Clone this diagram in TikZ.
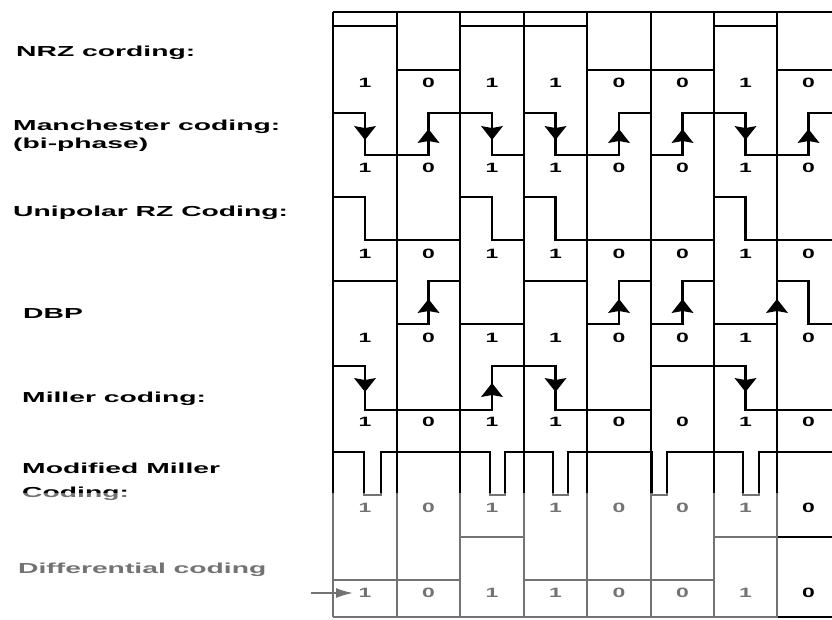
\documentclass[tikz,border=0pt]{standalone}
\usepackage{fontspec}
\setmainfont{Liberation Sans}
\usepackage{graphicx}
\usetikzlibrary{arrows.meta}
\tikzset{
  arrdown/.pic={\fill (-11,-7) -- (0,7) -- (11,-7) -- (0,-5) -- cycle;},
  arrup/.pic={\fill (-11,7) -- (0,-7) -- (11,7) -- (0,5) -- cycle;},
  sig/.style={line width=2.8pt, line join=miter},
  gridline/.style={line width=2.6pt},
  framelin/.style={line width=2.2pt},
  lab/.style={anchor=base west, inner sep=0pt, font=\fontsize{14.5}{16}\selectfont\bfseries},
  dig/.style={anchor=base, inner sep=0pt, font=\fontsize{13.5}{15}\selectfont\bfseries},
}
\newcommand{\xs}[1]{\scalebox{1.95}[1]{#1}}
\newcommand{\ds}[1]{\scalebox{1.7}[1]{#1}}
\begin{document}
\begin{tikzpicture}[x=1pt,y=-1pt]
\useasboundingbox (0,0) rectangle (832,619);
\fill[white] (0,0) rectangle (832,619);
\clip (0,0) rectangle (832,619);

% grid
\draw[framelin] (333,12) -- (840,12);
\draw[framelin] (333,617) -- (840,617);
\foreach \x in {333,397,460,524,587,651,714,777}
  \draw[gridline] (\x,12) -- (\x,617);

% NRZ
\draw[sig] (333,26) -- (397,26) -- (397,70) -- (460,70) -- (460,26) -- (587,26) -- (587,70) -- (714,70) -- (714,26) -- (777,26) -- (777,70) -- (840,70);

% Manchester
\draw[sig] (333,113) -- (365,113) -- (365,155) -- (428.5,155) -- (428.5,113) -- (492,113) -- (492,155) -- (524,155) -- (524,113) -- (555.5,113) -- (555.5,155) -- (619,155) -- (619,113) -- (651,113) -- (651,155) -- (682.5,155) -- (682.5,113) -- (745.5,113) -- (745.5,155) -- (808.5,155) -- (808.5,113) -- (840,113);
\pic at (365,133) {arrdown};
\pic at (428.5,136) {arrup};
\pic at (492,133) {arrdown};
\pic at (555.5,133) {arrdown};
\pic at (619,136) {arrup};
\pic at (682.5,136) {arrup};
\pic at (745.5,133) {arrdown};
\pic at (808.5,136) {arrup};

% Unipolar RZ
\draw[sig] (333,197) -- (365,197) -- (365,240) -- (460,240) -- (460,197) -- (492,197) -- (492,240) -- (524,240) -- (524,197) -- (555.5,197) -- (555.5,240) -- (714,240) -- (714,197) -- (745.5,197) -- (745.5,240) -- (840,240);

% DBP
\draw[sig] (333,281) -- (397,281) -- (397,324) -- (428.5,324) -- (428.5,281) -- (460,281) -- (460,324) -- (524,324) -- (524,281) -- (587,281) -- (587,324) -- (619,324) -- (619,281) -- (651,281) -- (651,324) -- (682.5,324) -- (682.5,281) -- (714,281) -- (714,324) -- (777,324) -- (777,281) -- (808.5,281) -- (808.5,324) -- (840,324);
\pic at (428.5,306) {arrup};
\pic at (619,306) {arrup};
\pic at (682.5,306) {arrup};
\pic at (777,306) {arrup};

% Miller
\draw[sig] (333,366) -- (365,366) -- (365,410) -- (492,410) -- (492,366) -- (555.5,366) -- (555.5,410) -- (651,410) -- (651,366) -- (745.5,366) -- (745.5,410) -- (840,410);
\pic at (365,385) {arrdown};
\pic at (492,390) {arrup};
\pic at (555.5,385) {arrdown};
\pic at (745.5,385) {arrdown};

% Modified Miller
\draw[sig] (333,452) -- (364,452) -- (364,495) -- (381,495) -- (381,452)
  -- (490,452) -- (490,495) -- (505,495) -- (505,452)
  -- (553,452) -- (553,495) -- (568,495) -- (568,452)
  -- (652,452) -- (652,495) -- (667,495) -- (667,452)
  -- (743,452) -- (743,495) -- (759,495) -- (759,452) -- (840,452);

% Differential
\draw[sig] (333,580) -- (460,580) -- (460,537) -- (524,537) -- (524,580) -- (714,580) -- (714,537) -- (840,537);

% start arrow
\coordinate (ast) at (311,593);
\coordinate (aen) at (353,593);
\draw[line width=1.8pt, -{Latex[length=17pt,width=10pt]}] (ast) -- (aen);

% digits
\foreach \y [count=\r] in {87,172,258,342,426,512,597}
  \foreach \x/\b [count=\c] in {365/1,428.5/0,492/1,555.5/1,619/0,682.5/0,745.5/1,808.5/0}
    \node[dig] (d\r-\c) at (\x,\y) {\ds{\b}};

% labels
\node[lab] (lnrz) at (16,56) {\xs{NRZ cording:}};
\node[lab] (lman) at (13,130) {\xs{Manchester coding:}};
\node[lab] (lbip) at (13,148) {\xs{(bi-phase)}};
\node[lab] (luni) at (13,216) {\xs{Unipolar RZ Coding:}};
\node[lab] (ldbp) at (23,318) {\xs{DBP}};
\node[lab] (lmil) at (22,402) {\xs{Miller coding:}};
\node[lab] (lmod) at (22,473) {\xs{Modified Miller}};
\node[lab] (lcod) at (22,497) {\xs{Coding:}};
\node[lab] (ldif) at (18,573) {\xs{Differential coding}};

% faded lower part of the scan
\fill[white, opacity=0.45] (0,493) rectangle (778,619);
\end{tikzpicture}
\end{document}
